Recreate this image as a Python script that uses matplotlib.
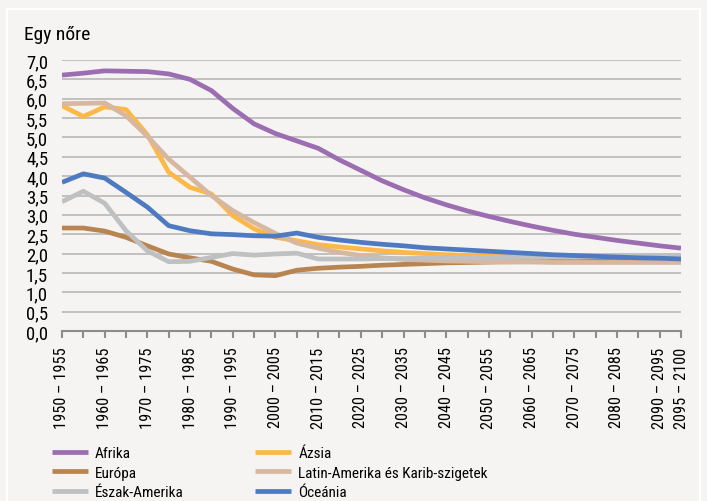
import matplotlib.pyplot as plt
from matplotlib.patches import Rectangle

# periods, 1950-1955 ... 2095-2100
starts = list(range(1950, 2100, 5))
periods = ["%d \u2013 %d" % (s, s + 5) for s in starts]

afrika = [6.61, 6.66, 6.72, 6.71, 6.70, 6.64, 6.50, 6.21, 5.75, 5.35,
          5.10, 4.91, 4.72, 4.42, 4.15, 3.88, 3.65, 3.44, 3.26, 3.10,
          2.96, 2.83, 2.71, 2.60, 2.50, 2.42, 2.34, 2.27, 2.20, 2.14]
azsia = [5.82, 5.54, 5.79, 5.72, 5.07, 4.10, 3.71, 3.54, 2.98, 2.64,
         2.42, 2.33, 2.23, 2.17, 2.12, 2.07, 2.03, 2.00, 1.97, 1.95,
         1.93, 1.91, 1.89, 1.88, 1.86, 1.85, 1.84, 1.83, 1.82, 1.81]
europa = [2.66, 2.66, 2.58, 2.42, 2.20, 1.99, 1.89, 1.80, 1.60, 1.45,
          1.43, 1.57, 1.62, 1.65, 1.67, 1.70, 1.72, 1.74, 1.76, 1.77,
          1.78, 1.79, 1.80, 1.80, 1.81, 1.81, 1.82, 1.82, 1.83, 1.83]
latin = [5.87, 5.88, 5.89, 5.56, 5.03, 4.44, 3.97, 3.50, 3.11, 2.80,
         2.52, 2.27, 2.14, 2.03, 1.95, 1.89, 1.85, 1.83, 1.81, 1.80,
         1.79, 1.78, 1.78, 1.77, 1.77, 1.77, 1.77, 1.77, 1.77, 1.77]
eszak = [3.34, 3.61, 3.30, 2.59, 2.07, 1.79, 1.80, 1.90, 2.00, 1.96,
         1.99, 2.01, 1.86, 1.86, 1.86, 1.87, 1.87, 1.88, 1.88, 1.89,
         1.89, 1.90, 1.90, 1.91, 1.91, 1.92, 1.92, 1.92, 1.93, 1.93]
oceania = [3.84, 4.06, 3.95, 3.58, 3.20, 2.72, 2.59, 2.51, 2.49, 2.46,
           2.45, 2.53, 2.42, 2.35, 2.29, 2.24, 2.20, 2.15, 2.12, 2.09,
           2.06, 2.03, 2.00, 1.97, 1.95, 1.93, 1.91, 1.89, 1.88, 1.86]

series = [
    ("Afrika", afrika, "#9B6DB1"),
    ("\u00c1zsia", azsia, "#FDB847"),
    ("Eur\u00f3pa", europa, "#B8844F"),
    ("Latin-Amerika \u00e9s Karib-szigetek", latin, "#D8B7A0"),
    ("\u00c9szak-Amerika", eszak, "#BFC0C2"),
    ("\u00d3ce\u00e1nia", oceania, "#4E7AC1"),
]

plt.rcParams['font.family'] = ['Roboto Condensed', 'Liberation Sans', 'DejaVu Sans']
bg = "#F5F4F2"

fig = plt.figure(figsize=(7.07, 5.02), dpi=100, facecolor=bg)
fig.patches.append(Rectangle((7 / 707, -0.05), 693 / 707, 1 - 10 / 502 + 0.05,
                             transform=fig.transFigure, fill=False,
                             edgecolor="white", lw=1.5))
ax = fig.add_axes([62 / 707, 1 - 332 / 502, 619 / 707, 271 / 502])
ax.set_facecolor(bg)

x = list(range(len(periods)))
lines = {}
for name, vals, col in series:
    lines[name] = ax.plot(x, vals, color=col, lw=3.4, solid_capstyle="butt",
                          solid_joinstyle="round")[0]

ax.set_xlim(0, len(periods) - 1)
ax.set_ylim(0, 7)
yt = [i * 0.5 for i in range(15)]
ax.set_yticks(yt)
ax.set_yticklabels([("%.1f" % v).replace(".", ",") for v in yt], fontsize=13.5)
ax.yaxis.grid(True, color="#B2B2B2", lw=1.1)
ax.set_axisbelow(True)
ax.tick_params(axis="y", length=0, pad=10)

ax.set_xticks(x)
shown = [periods[i] if (i % 2 == 0 or i == len(periods) - 1) else "" for i in x]
ax.set_xticklabels(shown, rotation=90, fontsize=11.7)
ax.tick_params(axis="x", length=5, width=1.5, color="#8C8C8C", pad=6)

for s in ["top", "right", "left"]:
    ax.spines[s].set_visible(False)
ax.spines["bottom"].set_color("#8C8C8C")
ax.spines["bottom"].set_linewidth(1.5)

fig.text(24 / 707, 1 - 40 / 502, "Egy n\u0151re", fontsize=14, va="baseline")

order = ["Afrika", "Eur\u00f3pa", "\u00c9szak-Amerika",
         "\u00c1zsia", "Latin-Amerika \u00e9s Karib-szigetek", "\u00d3ce\u00e1nia"]
fig.legend([lines[n] for n in order], order, ncol=2, loc="upper left",
           bbox_to_anchor=(46 / 707, 1 - 441 / 502), frameon=False,
           fontsize=11, handlelength=2.35, handletextpad=0.45,
           columnspacing=4.7, labelspacing=0.36, borderaxespad=0)

fig.savefig("out.png", dpi=100, facecolor=bg)
